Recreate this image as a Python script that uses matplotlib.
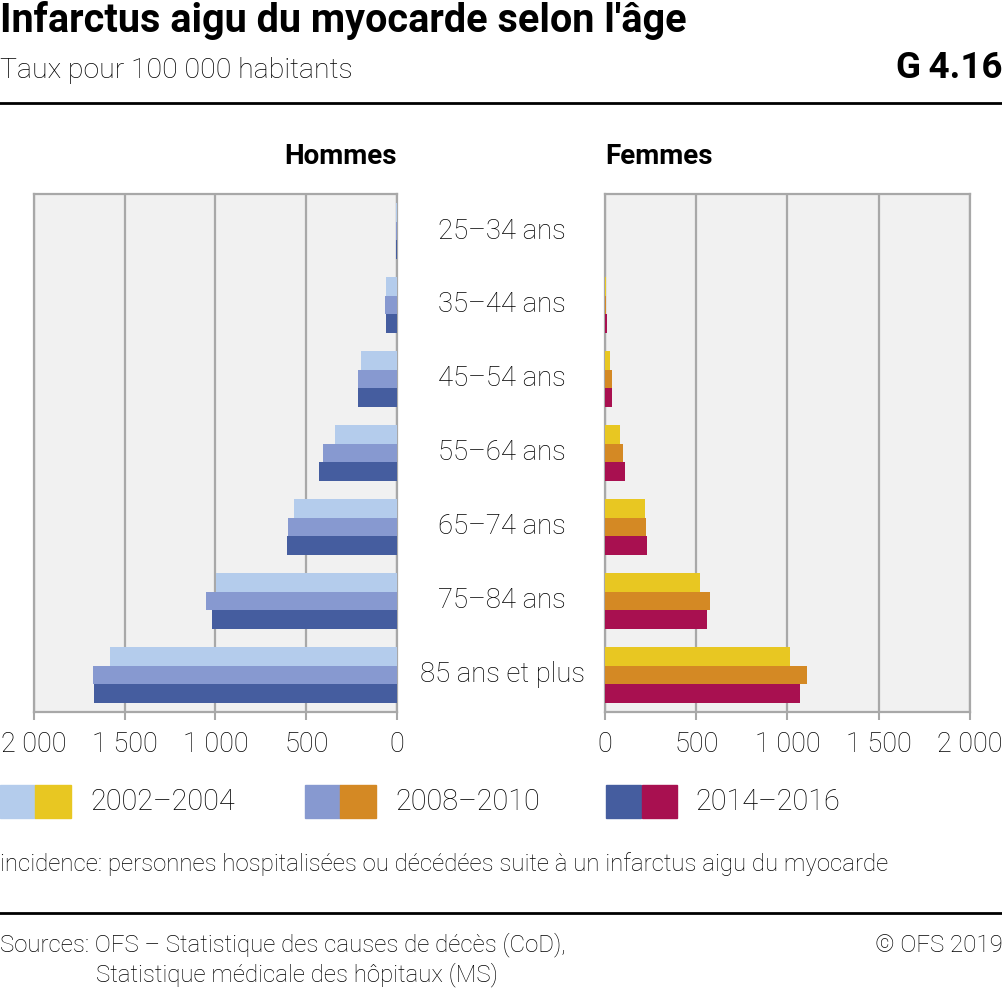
import numpy as np
from matplotlib import pyplot as plt

## data (rate per 100 000 inhabitants)
ages = ['25–34 ans', '35–44 ans', '45–54 ans', '55–64 ans',
        '65–74 ans', '75–84 ans', '85 ans et plus']
periods = ['2002–2004', '2008–2010', '2014–2016']

men_2002 = [6, 61, 197, 340, 568, 996, 1581]
men_2008 = [7, 64, 217, 408, 599, 1055, 1673]
men_2014 = [8, 62, 217, 428, 608, 1022, 1669]

women_2002 = [1, 7, 29, 80, 217, 521, 1012]
women_2008 = [1, 7, 40, 97, 226, 577, 1109]
women_2014 = [1, 11, 40, 110, 232, 559, 1070]

ticks = [0, 500, 1000, 1500, 2000]
tick_labels = ['0', '500', '1 000', '1 500', '2 000']

men_colors = ['#b4ccec', '#8799d0', '#455d9f']
women_colors = ['#e8c722', '#d48924', '#a81050']

plt.rcParams['font.family'] = ['Roboto', 'DejaVu Sans']
plt.rcParams['font.weight'] = 'light'

W, H = 1003, 990
fig = plt.figure(figsize=(W / 100, H / 100), dpi=100)


def fx(x):
    return x / W


def fy(y):
    return 1 - y / H


grid_col = '#a8a8a8'
y = np.arange(len(ages))
bh = 0.25


def panel(left, right, series, colors, invert):
    ax = fig.add_axes([fx(left), fy(712), fx(right - left), (712 - 194) / H])
    ax.set_facecolor('#f1f1f1')
    for i, (vals, c) in enumerate(zip(series, colors)):
        ax.barh(y + (i - 1) * bh, vals, height=bh, color=c, zorder=3)
    ax.set_xlim(0, 2000)
    if invert:
        ax.invert_xaxis()
    ax.set_ylim(len(ages) - 0.5, -0.5)
    ax.set_yticks([])
    ax.set_xticks(ticks)
    ax.set_xticklabels(tick_labels, fontsize=19.5, fontweight='light')
    ax.tick_params(axis='x', length=6, width=1.5, color=grid_col, pad=8)
    ax.grid(axis='x', color=grid_col, linewidth=1.6, zorder=1)
    for s in ax.spines.values():
        s.set_color(grid_col)
        s.set_linewidth(1.6)
    return ax


ax_m = panel(34, 397, [men_2002, men_2008, men_2014], men_colors, True)
ax_f = panel(605, 970, [women_2002, women_2008, women_2014], women_colors, False)

## age labels in the middle
for i, a in enumerate(ages):
    fig.text(fx(502), fy(231 + i * 74), a, ha='center', va='center', fontsize=19.8)

fig.text(fx(397), fy(157), 'Hommes', ha='right', va='center', fontsize=20, fontweight='bold')
fig.text(fx(605), fy(157), 'Femmes', ha='left', va='center', fontsize=20, fontweight='bold')

## titles
fig.text(0, fy(21), "Infarctus aigu du myocarde selon l'âge", ha='left', va='center',
         fontsize=28.5, fontweight='bold')
fig.text(0, fy(70), 'Taux pour 100 000 habitants', ha='left', va='center', fontsize=20.4)
fig.text(1, fy(68), 'G\u20094.16', ha='right', va='center', fontsize=26.5, fontweight='bold')
fig.add_artist(plt.Line2D([0, 1], [fy(103), fy(103)], color='black', linewidth=2))

## legend
for (x0, xt), p, mc, wc in zip([(0, 90), (305, 395), (606, 695)], periods,
                               men_colors, women_colors):
    fig.add_artist(plt.Rectangle((fx(x0), fy(818)), fx(35.5), 33 / H, color=mc))
    fig.add_artist(plt.Rectangle((fx(x0 + 35.5), fy(818)), fx(35.5), 33 / H, color=wc))
    fig.text(fx(xt), fy(802), p, ha='left', va='center', fontsize=20.8)

## notes
fig.text(0, fy(864), 'incidence: personnes hospitalisées ou décédées suite à un infarctus aigu du myocarde',
         ha='left', va='center', fontsize=17.3)
fig.add_artist(plt.Line2D([0, 1], [fy(913), fy(913)], color='black', linewidth=2))
fig.text(0, fy(945), 'Sources: OFS – Statistique des causes de décès (CoD),',
         ha='left', va='center', fontsize=17.3)
fig.text(fx(96), fy(975), 'Statistique médicale des hôpitaux (MS)',
         ha='left', va='center', fontsize=17.3)
fig.text(1, fy(945), '© OFS 2019', ha='right', va='center', fontsize=17.3)

plt.savefig('out.png', dpi=100)
